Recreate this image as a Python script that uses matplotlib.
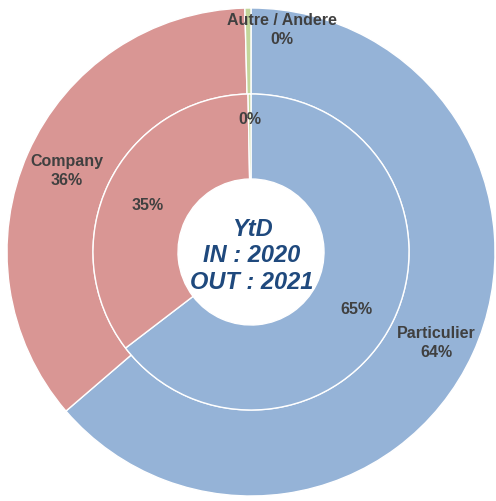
import matplotlib
matplotlib.use("Agg")
import matplotlib.pyplot as plt

categories = ["Particulier", "Company", "Autre / Andere"]
outer_values = [63.7, 35.9, 0.4]   # OUT : 2021
inner_values = [64.6, 35.1, 0.3]   # IN : 2020
outer_labels = ["64%", "36%", "0%"]
inner_labels = ["65%", "35%", "0%"]
colors = ["#95B3D7", "#D99694", "#C3D69B"]

W, H, DPI = 496, 501, 100
R = 244.0
cx, cy = 251.0, 252.0

def p2d(px, py):
    return ((px - cx) / R, (cy - py) / R)

fig = plt.figure(figsize=(W / DPI, H / DPI), dpi=DPI)
ax = fig.add_axes([0, 0, 1, 1])
ax.axis("off")

wedge_kw = dict(edgecolor="white", linewidth=1.0)
ax.pie(outer_values, radius=1.0, colors=colors, startangle=90, counterclock=False,
       wedgeprops=dict(width=1.0 - 158 / R, **wedge_kw))
ax.pie(inner_values, radius=158 / R, colors=colors, startangle=90, counterclock=False,
       wedgeprops=dict(width=(158 - 73) / R, **wedge_kw))

ax.set_xlim(-cx / R, (W - cx) / R)
ax.set_ylim(-(H - cy) / R, cy / R)
ax.set_aspect("auto")

lab_kw = dict(ha="center", va="center", fontsize=11.5, fontweight="bold",
              color="#404040", family="Liberation Sans", linespacing=1.4)

# outer labels
outer_pos = [(436, 343), (67, 171), (282, 30)]
for cat, lab, pos in zip(categories, outer_labels, outer_pos):
    ax.text(*p2d(*pos), f"{cat}\n{lab}", **lab_kw)

# inner labels
inner_pos = [(356, 310), (148, 205), (250, 120)]
for lab, pos in zip(inner_labels, inner_pos):
    ax.text(*p2d(*pos), lab, **lab_kw)

ax.text(*p2d(252, 256), "YtD\nIN : 2020\nOUT : 2021", ha="center", va="center",
        fontsize=17, fontstyle="italic", fontweight="bold", color="#1F497D",
        family="Liberation Sans", linespacing=1.22)

fig.savefig("out.png", dpi=DPI)
